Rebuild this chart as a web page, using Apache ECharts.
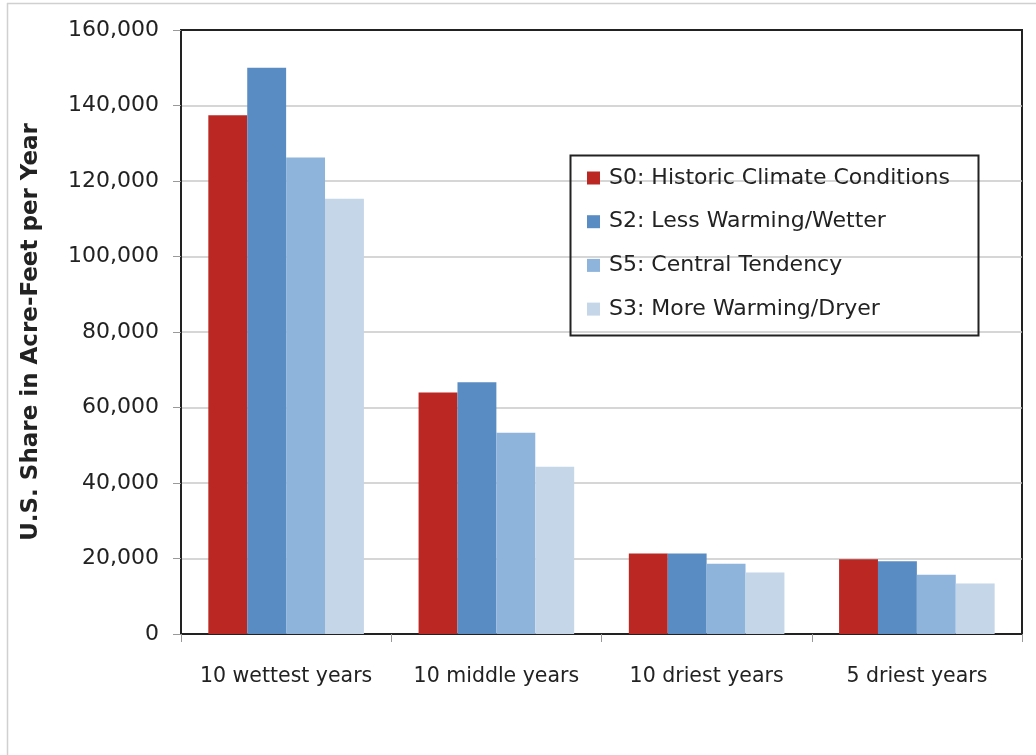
<!DOCTYPE html>
<html>
<head>
<meta charset="utf-8">
<script src="https://cdn.jsdelivr.net/npm/echarts@6/dist/echarts.min.js"></script>
<style>html,body{margin:0;padding:0;background:#fff;}#c{width:1036px;height:755px;}</style>
</head>
<body>
<div id="c"></div>
<script>
const categories = ['10 wettest years', '10 middle years', '10 driest years', '5 driest years'];
const seriesNames = ['S0: Historic Climate Conditions', 'S2: Less Warming/Wetter', 'S5: Central Tendency', 'S3: More Warming/Dryer'];
const s0 = [137400, 64000, 21300, 19800];
const s2 = [150000, 66700, 21300, 19300];
const s5 = [126200, 53300, 18600, 15700];
const s3 = [115300, 44300, 16300, 13400];
const colors = ['#BB2824', '#5A8CC4', '#8EB4DC', '#C4D6E7'];
const yTicks = [0, 20000, 40000, 60000, 80000, 100000, 120000, 140000, 160000];

const font = 'DejaVu Sans';
const chart = echarts.init(document.getElementById('c'));
const values = [s0, s2, s5, s3];
chart.setOption({
  animation: false,
  backgroundColor: '#fff',
  grid: { left: 181, right: 14, top: 30, bottom: 121, show: true, borderColor: '#222', borderWidth: 2 },
  legend: {
    orient: 'vertical', left: 582, top: 161,
    itemWidth: 13, itemHeight: 13, itemGap: 19.7,
    icon: 'rect',
    textStyle: { fontFamily: font, fontSize: 22, color: '#222', lineHeight: 24, padding: [0, 0, 0, 4] },
    data: seriesNames
  },
  xAxis: {
    type: 'category', data: categories,
    axisLine: { lineStyle: { color: '#222', width: 2 } },
    axisTick: { show: true, length: 8, lineStyle: { color: '#999' } },
    axisLabel: { interval: 0, fontFamily: font, fontSize: 20.5, color: '#222', margin: 32 }
  },
  yAxis: {
    type: 'value', min: yTicks[0], max: yTicks[yTicks.length - 1], interval: 20000,
    name: 'U.S. Share in Acre-Feet per Year', nameLocation: 'middle', nameGap: 138, nameRotate: 90,
    nameTextStyle: { fontFamily: font, fontSize: 23, fontWeight: 'bold', color: '#222' },
    axisLine: { show: true, lineStyle: { color: '#222', width: 2 } },
    axisTick: { show: true, length: 8, lineStyle: { color: '#999' } },
    splitLine: { lineStyle: { color: '#c8c8c8', width: 1.5 } },
    axisLabel: { fontFamily: font, fontSize: 22, color: '#222', margin: 22,
      formatter: v => v.toLocaleString('en-US') }
  },
  series: seriesNames.map((n, i) => ({
    name: n, type: 'bar', data: values[i],
    barGap: '0%', barCategoryGap: '26%',
    itemStyle: { color: colors[i] }
  })),
  graphic: [
    { type: 'rect', left: 568, top: 153, shape: { width: 408, height: 180 }, style: { fill: null, stroke: '#222', lineWidth: 2 }, z: 100 },
    { type: 'line', shape: { x1: 181, y1: 30, x2: 1022, y2: 30 }, style: { stroke: '#222', lineWidth: 2 }, z: 100 },
    { type: 'line', shape: { x1: 7.5, y1: 3, x2: 7.5, y2: 755 }, style: { stroke: '#d0d0d0', lineWidth: 1.5 } },
    { type: 'line', shape: { x1: 7, y1: 3.5, x2: 1036, y2: 3.5 }, style: { stroke: '#d0d0d0', lineWidth: 1.5 } }
  ]
});
</script>
</body>
</html>
